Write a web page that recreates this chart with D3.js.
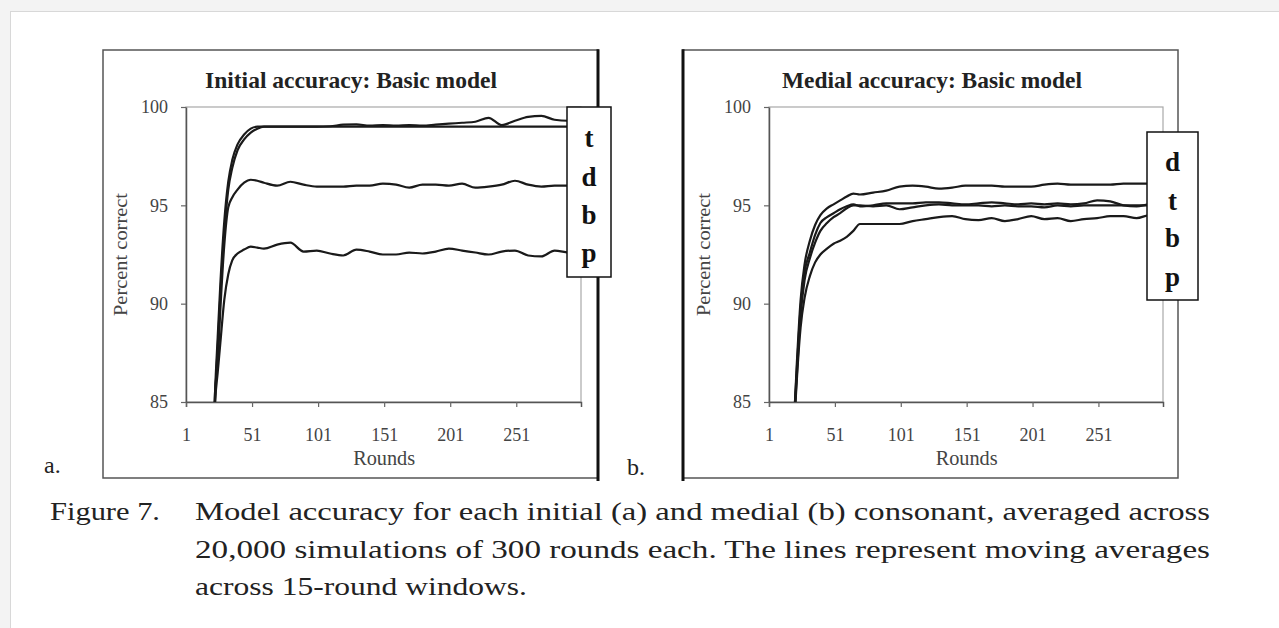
<!DOCTYPE html>
<html>
<head>
<meta charset="utf-8">
<script src="https://cdn.jsdelivr.net/npm/d3@7"></script>
<style>
  html, body { margin: 0; padding: 0; background: #f3f3f3; }
  svg { display: block; }
  text { font-family: "Liberation Serif", "Times New Roman", serif; }
</style>
</head>
<body>
<svg id="fig" width="1279" height="628"></svg>
<script>
// ---------------- DATA ----------------
const roundTicks = [1, 51, 101, 151, 201, 251];
const percentTicks = [85, 90, 95, 100];

const roundsInitial = [20,23,25,27,30,33,36,40,45,50,55,60,70,80,90,100,110,120,130,140,150,160,170,180,190,200,210,220,230,240,250,260,270,280,290,300];
const initialT = [78,85.5,88.3,91,94.2,96.2,97.3,98.1,98.6,98.9,99,99,99,99,99,99,99.02,99.1,99.12,99.05,99.08,99.05,99.08,99.05,99.1,99.15,99.2,99.25,99.45,99.08,99.3,99.5,99.55,99.35,99.3,99.35];
const initialD = [77,85,87.8,90.4,93.6,95.8,96.9,97.8,98.35,98.7,98.9,99,99,99,99,99,99,99,99,99,99,99,99,99,99,99,99,99,99,99,99,99,99,99,99,99];
const initialB = [79,85.5,87,89.7,93,94.9,95.4,95.8,96.15,96.3,96.25,96.15,96,96.2,96.05,95.95,95.95,95.95,96,96,96.1,96.05,95.9,96.05,96.05,96,96.1,95.9,95.95,96.05,96.25,96.05,95.95,96,96,95.95];
const initialP = [79,85,86.5,88,90.2,91.5,92.2,92.55,92.75,92.9,92.85,92.8,93,93.1,92.65,92.7,92.55,92.45,92.75,92.65,92.5,92.5,92.6,92.55,92.65,92.8,92.7,92.6,92.5,92.65,92.7,92.45,92.4,92.7,92.6,92.55];
const initialLegend = ["t", "d", "b", "p"];

const roundsMedial = [17,20,22,25,28,32,36,40,45,50,55,60,65,70,80,90,100,110,120,130,140,150,160,170,180,190,200,210,220,230,240,250,260,270,280,290,300];
const medialD = [78,84,86.8,90.2,92,93.2,94,94.5,94.85,95.05,95.25,95.45,95.6,95.55,95.65,95.75,95.95,96,95.95,95.85,95.9,96,96,96,95.95,95.95,95.95,96.05,96.1,96.05,96.05,96.05,96.05,96.1,96.1,96.1,96.1];
const medialT = [78,84,86.5,89.8,91.6,92.6,93.5,94.1,94.4,94.6,94.8,94.95,95.05,94.95,95,95.1,95.1,95.1,95.15,95.15,95.1,95.05,95.1,95.15,95.1,95.05,95.1,95.05,95.1,95.05,95.1,95.25,95.2,95,94.95,95.05,95.05];
const medialB = [78,83.8,86.2,89.4,91.2,92.3,93.1,93.7,94.1,94.4,94.6,94.85,95,95,94.95,95,94.8,94.9,95,95.05,95,95,95,94.95,95,94.95,94.95,94.9,95,94.95,95,95,95,95,95,95,95];
const medialP = [78,83.5,86,88.8,90.3,91.4,92.1,92.5,92.8,93.05,93.2,93.4,93.7,94.05,94.05,94.05,94.05,94.2,94.3,94.4,94.45,94.3,94.25,94.35,94.2,94.3,94.45,94.3,94.35,94.2,94.3,94.35,94.45,94.45,94.35,94.5,94.5];
const medialLegend = ["d", "t", "b", "p"];

const titles = ["Initial accuracy: Basic model", "Medial accuracy: Basic model"];
const panelLabels = ["a.", "b."];
const xLabel = "Rounds";
const yLabel = "Percent correct";
const captionHead = "Figure 7.";
const captionLines = [
  "Model accuracy for each initial (a) and medial (b) consonant, averaged across",
  "20,000 simulations of 300 rounds each. The lines represent moving averages",
  "across 15-round windows."
];

// ---------------- DRAW ----------------
const svg = d3.select("#fig");

// page
svg.append("rect").attr("x", 0).attr("y", 0).attr("width", 1279).attr("height", 628).attr("fill", "#f3f3f3");
svg.append("rect").attr("x", 10.5).attr("y", 11.5).attr("width", 1300).attr("height", 700)
  .attr("fill", "#ffffff").attr("stroke", "#d8d8d8").attr("stroke-width", 1);

const defs = svg.append("defs");

function drawPanel(cfg, idx) {
  const g = svg.append("g");
  const { box, plot } = cfg;

  // outer frame
  g.append("rect").attr("x", box.x).attr("y", box.y).attr("width", box.w).attr("height", box.h)
    .attr("fill", "#fff").attr("stroke", "#555").attr("stroke-width", 1.5);
  const sx = cfg.thickSide === "right" ? box.x + box.w : box.x;
  g.append("line").attr("x1", sx).attr("x2", sx).attr("y1", box.y - 0.75).attr("y2", box.y + box.h + 3)
    .attr("stroke", "#111").attr("stroke-width", 3);

  const x = d3.scaleLinear().domain([1, 300]).range([plot.x, plot.x + plot.w]);
  const y = d3.scaleLinear().domain([85, 100]).range([plot.y + plot.h, plot.y]);

  // plot area border
  g.append("rect").attr("x", plot.x).attr("y", plot.y).attr("width", plot.w).attr("height", plot.h)
    .attr("fill", "none").attr("stroke", "#a8a8a8").attr("stroke-width", 1.2);

  // axes
  const xAxis = d3.axisBottom(x).tickValues(roundTicks).tickSize(5).tickPadding(21).tickSizeOuter(5);
  const gx = g.append("g").attr("transform", `translate(0,${plot.y + plot.h})`).call(xAxis);
  gx.select(".domain").attr("stroke", "#555").attr("stroke-width", 1.5);
  gx.selectAll(".tick line").attr("stroke", "#666").attr("stroke-width", 1.2);
  gx.selectAll(".tick text").attr("font-size", 18).attr("fill", "#444")
    .attr("font-family", "'Liberation Serif', serif");

  const yAxis = d3.axisLeft(y).tickValues(percentTicks).tickSize(5).tickPadding(13).tickSizeOuter(0);
  const gy = g.append("g").attr("transform", `translate(${plot.x},0)`).call(yAxis);
  gy.select(".domain").attr("stroke", "#555").attr("stroke-width", 1.5);
  gy.selectAll(".tick line").attr("stroke", "#666").attr("stroke-width", 1.2);
  gy.selectAll(".tick text").attr("font-size", 18).attr("fill", "#444")
    .attr("font-family", "'Liberation Serif', serif");

  // clip
  const cid = "clip" + idx;
  defs.append("clipPath").attr("id", cid).append("rect")
    .attr("x", plot.x).attr("y", plot.y - 2).attr("width", plot.w + 1).attr("height", plot.h + 2);

  const line = d3.line().x(d => x(d[0])).y(d => y(d[1])).curve(d3.curveMonotoneX);
  const lg = g.append("g").attr("clip-path", `url(#${cid})`);
  cfg.series.forEach(vals => {
    lg.append("path").datum(cfg.rounds.map((r, i) => [r, vals[i]]))
      .attr("d", line).attr("fill", "none").attr("stroke", "#1a1a1a").attr("stroke-width", 2.2)
      .attr("stroke-linejoin", "round");
  });

  // title
  g.append("text").attr("x", cfg.titleX).attr("y", 88).attr("text-anchor", "middle")
    .attr("font-size", 23).attr("font-weight", "bold").attr("fill", "#222")
    .attr("textLength", cfg.titleW).attr("lengthAdjust", "spacingAndGlyphs").text(cfg.title);
  // axis labels
  g.append("text").attr("x", x(151)).attr("y", 465).attr("text-anchor", "middle")
    .attr("font-size", 20).attr("fill", "#444")
    .attr("textLength", 62).attr("lengthAdjust", "spacingAndGlyphs").text(xLabel);
  g.append("text").attr("transform", `translate(${plot.x - 59},${y(92.5)}) rotate(-90)`)
    .attr("text-anchor", "middle").attr("font-size", 18).attr("fill", "#444")
    .attr("textLength", 123).attr("lengthAdjust", "spacingAndGlyphs").text(yLabel);

  // legend
  const L = cfg.legend;
  g.append("rect").attr("x", L.x).attr("y", L.y).attr("width", L.w).attr("height", L.h)
    .attr("fill", "#fff").attr("stroke", "#111").attr("stroke-width", 1.5);
  cfg.legendLabels.forEach((t, i) => {
    g.append("text").attr("x", L.x + L.w / 2).attr("y", cfg.legendY[i])
      .attr("text-anchor", "middle").attr("font-size", 27).attr("font-weight", "bold")
      .attr("fill", "#111").text(t);
  });

  // panel letter
  g.append("text").attr("x", cfg.letter.x).attr("y", cfg.letter.y).attr("font-size", 24)
    .attr("fill", "#222").text(cfg.letterText);
}

drawPanel({
  box: { x: 103, y: 50, w: 495, h: 428 },
  plot: { x: 186, y: 107, w: 395, h: 295 },
  thickSide: "right",
  rounds: roundsInitial,
  series: [initialT, initialD, initialB, initialP],
  legendLabels: initialLegend,
  legend: { x: 567, y: 107, w: 44, h: 170 },
  legendY: [147, 186, 224, 262],
  title: titles[0], titleX: 351, titleW: 292,
  letter: { x: 44, y: 473 },
  letterText: panelLabels[0]
}, 0);

drawPanel({
  box: { x: 683, y: 50, w: 495, h: 428 },
  plot: { x: 769, y: 107, w: 394, h: 295 },
  thickSide: "left",
  rounds: roundsMedial,
  series: [medialD, medialT, medialB, medialP],
  legendLabels: medialLegend,
  legend: { x: 1147, y: 132, w: 51, h: 168 },
  legendY: [171, 210, 247, 286],
  title: titles[1], titleX: 932, titleW: 300,
  letter: { x: 627, y: 475 },
  letterText: panelLabels[1]
}, 1);

// caption
const cap = svg.append("g").attr("fill", "#222").attr("font-size", 25);
cap.append("text").attr("x", 50).attr("y", 520)
  .attr("textLength", 110).attr("lengthAdjust", "spacingAndGlyphs").text(captionHead);
const capW = [1015, 1015, 332];
captionLines.forEach((t, i) => {
  cap.append("text").attr("x", 195).attr("y", 520 + i * 37.5)
    .attr("textLength", capW[i]).attr("lengthAdjust", "spacingAndGlyphs").text(t);
});
</script>
</body>
</html>
